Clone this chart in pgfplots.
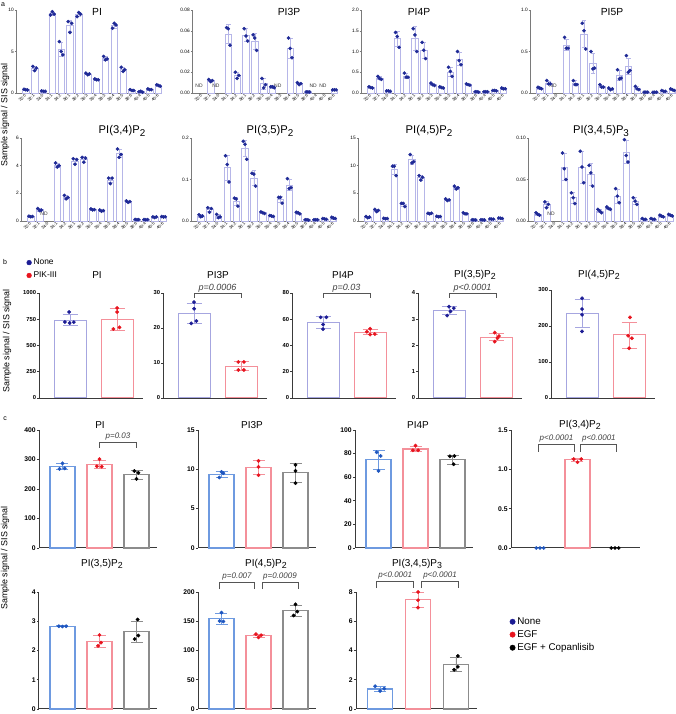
\documentclass[border=0pt]{standalone}
\usepackage{fontspec}
\setmainfont{Liberation Sans}
\usepackage{graphicx}
\usepackage{pgfplots}
\usepackage{pgfplotstable}
\pgfplotsset{compat=1.18}

\definecolor{axa}{HTML}{7A7A7A}
\definecolor{axb}{HTML}{3A3A3A}
\definecolor{abar}{HTML}{B6B6E8}
\definecolor{adot}{HTML}{1F2A96}
\definecolor{bbar}{HTML}{A6A6E0}
\definecolor{bdot}{HTML}{1C1C94}
\definecolor{rbar}{HTML}{F4909A}
\definecolor{rdot}{HTML}{E8141E}
\definecolor{cbar}{HTML}{6E9AE0}
\definecolor{cdot}{HTML}{1E56C0}
\definecolor{kbar}{HTML}{8C8C8C}
\definecolor{brk}{HTML}{555555}

\newcommand{\fs}[1]{\fontsize{#1}{#1}\selectfont}
\newcommand{\sub}[1]{\raisebox{-0.45ex}{\scalebox{0.88}{#1}}}

% ---- panel a tables: x mean sd rep1 rep2 rep3 ----
\pgfplotstableread{
x m e a b c
0 0.40 0.05 0.45 0.40 0.35
1 2.97 0.25 3.20 2.70 3.00
2 0.22 0.03 0.25 0.20 0.20
3 9.57 0.21 9.40 9.80 9.50
4 5.27 0.82 6.20 5.00 4.60
5 8.10 0.70 8.60 7.30 8.40
6 9.47 0.25 9.20 9.70 9.50
7 2.30 0.10 2.40 2.20 2.30
8 1.63 0.06 1.70 1.60 1.60
9 4.17 0.21 4.40 4.00 4.10
10 8.13 0.31 7.80 8.40 8.20
11 2.83 0.25 3.10 2.60 2.80
12 0.33 0.06 0.40 0.30 0.30
13 0.15 0.05 0.15 0.20 0.10
14 0.43 0.06 0.50 0.40 0.40
15 0.90 0.10 1.00 0.90 0.80
}\tPI
\pgfplotstableread{
x m e a b c
0 nan nan nan nan nan
1 0.012 0.001 0.013 0.011 0.012
2 nan nan nan nan nan
3 0.057 0.009 0.063 0.062 0.046
4 0.017 0.003 0.020 0.014 0.017
5 0.056 0.006 0.062 0.055 0.050
6 0.050 0.008 0.056 0.053 0.041
7 0.009 0.005 0.014 0.005 0.008
8 0.006 0.001 0.006 0.006 0.005
9 nan nan nan nan nan
10 0.043 0.010 0.053 0.043 0.034
11 0.009 0.001 0.010 0.008 0.009
12 0.001 0.0003 0.001 0.001 0.001
13 nan nan nan nan nan
14 nan nan nan nan nan
15 0.003 0.0003 0.003 0.003 0.003
}\tPIthreeP
\pgfplotstableread{
x m e a b c
0 0.13 0.015 0.15 0.13 0.12
1 0.36 0.04 0.40 0.35 0.33
2 0.05 0.005 0.05 0.05 0.04
3 1.31 0.18 1.46 1.36 1.10
4 0.41 0.06 0.48 0.38 0.38
5 1.32 0.28 1.55 1.40 1.00
6 1.03 0.20 1.22 1.03 0.83
7 0.21 0.03 0.24 0.20 0.18
8 0.13 0.015 0.15 0.13 0.12
9 0.51 0.11 0.62 0.52 0.40
10 0.82 0.16 1.00 0.78 0.68
11 0.20 0.015 0.22 0.20 0.19
12 0.03 0.005 0.03 0.03 0.02
13 0.03 0.005 0.03 0.03 0.03
14 0.06 0.005 0.06 0.06 0.05
15 0.11 0.01 0.12 0.10 0.10
}\tPIfourP
\pgfplotstableread{
x m e a b c
0 0.06 0.01 0.07 0.06 0.05
1 0.12 0.02 0.15 0.11 0.11
2 nan nan nan nan nan
3 0.58 0.07 0.67 0.54 0.54
4 0.12 0.03 0.15 0.10 0.10
5 0.71 0.16 0.84 0.75 0.53
6 0.36 0.12 0.50 0.29 0.30
7 0.08 0.015 0.10 0.07 0.07
8 0.05 0.01 0.06 0.04 0.05
9 0.21 0.06 0.28 0.17 0.18
10 0.32 0.10 0.45 0.25 0.27
11 0.06 0.02 0.08 0.05 0.04
12 0.01 0.003 0.01 0.01 0.01
13 0.01 0.003 0.01 0.01 0.01
14 0.02 0.005 0.03 0.02 0.02
15 0.04 0.01 0.05 0.04 0.03
}\tPIfiveP
\pgfplotstableread{
x m e a b c
0 0.33 0.03 0.35 0.30 0.33
1 0.81 0.08 0.90 0.75 0.78
2 nan nan nan nan nan
3 4.03 0.15 4.20 3.90 4.00
4 1.72 0.13 1.85 1.60 1.70
5 4.35 0.20 4.50 4.10 4.45
6 4.47 0.20 4.60 4.25 4.55
7 0.83 0.04 0.87 0.80 0.82
8 0.75 0.05 0.80 0.70 0.75
9 2.97 0.20 3.10 2.70 3.10
10 4.87 0.30 5.20 4.60 4.80
11 1.40 0.05 1.45 1.35 1.40
12 0.10 0.02 0.11 0.09 0.10
13 0.10 0.02 0.11 0.09 0.10
14 0.28 0.03 0.30 0.25 0.30
15 0.30 0.02 0.32 0.29 0.30
}\tPIthreefour
\pgfplotstableread{
x m e a b c
0 0.012 0.003 0.015 0.010 0.012
1 0.028 0.005 0.032 0.021 0.030
2 0.011 0.004 0.016 0.008 0.010
3 0.129 0.030 0.157 0.136 0.094
4 0.048 0.010 0.055 0.053 0.036
5 0.175 0.020 0.192 0.185 0.149
6 0.104 0.017 0.115 0.113 0.084
7 0.020 0.002 0.022 0.020 0.018
8 0.012 0.001 0.013 0.012 0.011
9 0.052 0.008 0.057 0.057 0.043
10 0.087 0.013 0.102 0.078 0.080
11 0.019 0.002 0.021 0.020 0.017
12 0.003 0.001 0.003 0.003 0.002
13 0.003 0.001 0.003 0.003 0.003
14 0.005 0.001 0.006 0.005 0.004
15 0.007 0.002 0.009 0.007 0.006
}\tPIthreefive
\pgfplotstableread{
x m e a b c
0 0.70 0.10 0.80 0.60 0.70
1 1.90 0.20 2.10 1.70 1.90
2 0.45 0.05 0.50 0.40 0.45
3 9.33 0.98 9.90 9.90 8.20
4 3.00 0.35 3.20 3.20 2.60
5 11.07 0.80 12.00 10.50 10.70
6 7.83 0.40 8.20 7.40 7.90
7 1.37 0.06 1.40 1.30 1.40
8 0.80 0.05 0.85 0.75 0.80
9 3.83 0.15 4.00 3.70 3.80
10 6.03 0.25 6.30 5.80 6.00
11 1.37 0.10 1.50 1.30 1.30
12 0.20 0.03 0.22 0.20 0.18
13 0.20 0.03 0.22 0.20 0.18
14 0.35 0.04 0.38 0.35 0.32
15 0.50 0.05 0.55 0.50 0.45
}\tPIfourfive
\pgfplotstableread{
x m e a b c
0 0.008 0.0015 0.010 0.008 0.007
1 0.020 0.0035 0.023 0.016 0.020
2 nan nan nan nan nan
3 0.065 0.016 0.082 0.063 0.050
4 0.028 0.007 0.034 0.028 0.021
5 0.065 0.019 0.084 0.065 0.046
6 0.056 0.013 0.067 0.058 0.042
7 0.012 0.002 0.014 0.012 0.010
8 0.015 0.0015 0.017 0.015 0.014
9 0.030 0.0085 0.039 0.030 0.022
10 0.083 0.014 0.098 0.079 0.071
11 0.024 0.004 0.028 0.024 0.020
12 0.002 0.0005 0.003 0.002 0.002
13 0.002 0.0005 0.003 0.002 0.002
14 0.006 0.001 0.007 0.006 0.005
15 0.007 0.001 0.008 0.007 0.006
}\tPIPthree

\pgfplotsset{
  base/.style={scale only axis, axis lines=left, axis line style={-}, ymin=0,
    clip=false, tick align=outside, enlargelimits=false, xtick=\empty,
    scaled y ticks=false,
    /pgf/number format/assume math mode=true, /pgf/number format/1000 sep={}},
  pa/.style={base, width=146pt, height=83pt, xmin=-1.1, xmax=15.4,
    axis line style={color=axa, line width=0.5pt},
    tick style={color=axa, line width=0.4pt}, major tick length=1.3pt,
    xtick={0,...,15},
    xticklabels={32:0,32:1,34:0,34:1,34:2,36:1,36:2,36:3,36:4,38:3,38:4,38:5,38:6,40:4,40:5,40:6},
    x tick label style={rotate=45, anchor=east, font=\fs{4.2}, inner sep=0.6pt},
    y tick label style={font=\fs{4.8}, inner sep=0.8pt}},
  pb/.style={base, width=104pt, height=105pt, xmin=-0.66, xmax=1.55,
    axis line style={color=axb, line width=0.9pt},
    tick style={color=axb, line width=0.7pt}, major tick length=2pt,
    y tick label style={font=\fs{5.8}\bfseries, inner sep=0.8pt}},
  pc/.style={base, width=118pt, height=118pt, xmin=-0.635, xmax=2.554,
    axis line style={color=axb, line width=1pt},
    tick style={color=axb, line width=0.8pt}, major tick length=2.2pt,
    y tick label style={font=\fs{6.8}\bfseries, inner sep=1pt}},
  abarplot/.style={ybar, bar width=6.5pt, bar shift=0pt, draw=abar, fill=white,
    line width=0.6pt, error bars/y dir=both, error bars/y explicit,
    error bars/error bar style={color=abar, line width=0.6pt},
    error bars/error mark options={rotate=90, color=abar, mark size=2.3pt, line width=0.6pt}},
  adots/.style={only marks, mark=*, mark size=1.6pt, color=adot},
  bbarplot/.style={ybar, bar width=32pt, bar shift=0pt, draw=#1, fill=white,
    line width=1pt, error bars/y dir=both, error bars/y explicit,
    error bars/error bar style={color=#1, line width=0.9pt},
    error bars/error mark options={rotate=90, color=#1, mark size=7.5pt, line width=0.9pt}},
  cbarplot/.style={ybar, bar width=25pt, bar shift=0pt, draw=#1, fill=white,
    line width=1.1pt, error bars/y dir=both, error bars/y explicit,
    error bars/error bar style={color=#1, line width=0.9pt},
    error bars/error mark options={rotate=90, color=#1, mark size=6pt, line width=0.9pt}},
  dots/.style={only marks, mark=*, mark size=1.7pt, color=#1},
}

\newcommand{\panelA}[7]{%
  \begin{axis}[pa, at={(#1pt,#2pt)}, ymax=#4, ytick={#5}, yticklabels={#6}]
    \addplot[abarplot] table[x=x, y=m, y error=e] {#3};
    \addplot[adots] table[x expr=\thisrow{x}-0.2, y=a] {#3};
    \addplot[adots] table[x=x, y=b] {#3};
    \addplot[adots] table[x expr=\thisrow{x}+0.2, y=c] {#3};
    #7
  \end{axis}}
\newcommand{\ND}[1]{\node[font=\fs{5}, text=black!80, yshift=7.5pt] at (axis cs:#1,0) {ND};}
% bracket: x1, x2, xmid, ytop, ybottom, text, text lift, text size
\newcommand{\brk}[8]{%
  \draw[brk, line width=0.8pt] (axis cs:#1,#5) -- (axis cs:#1,#4) -- (axis cs:#2,#4) -- (axis cs:#2,#5);
  \node[font=\fs{#8}\itshape, text=black!75, anchor=base, yshift=#7pt] at (axis cs:#3,#4) {#6};}

\begin{document}
\begin{tikzpicture}
\useasboundingbox (0,0) rectangle (676pt,714pt);

% ================= panel a =================
\node[font=\fs{7}] at (3pt,709pt) {a};
\node[rotate=90, font=\fs{8.9}] at (5pt,599pt) {Sample signal / SIS signal};

\panelA{16}{621}{\tPI}{10}{0,5,10}{0,5,10}{}
\panelA{192}{621}{\tPIthreeP}{0.08}{0,0.02,0.04,0.06,0.08}{0.00,0.02,0.04,0.06,0.08}%
  {\ND{-0.3}\ND{1.6}\ND{8.6}\ND{12.6}\ND{13.7}}
\panelA{361}{621}{\tPIfourP}{2}{0,0.5,1,1.5,2}{0.0,0.5,1.0,1.5,2.0}{}
\panelA{530}{621}{\tPIfiveP}{1}{0,0.5,1}{0.0,0.5,1.0}{\ND{1.5}}
\panelA{21}{493}{\tPIthreefour}{6}{0,2,4,6}{0,2,4,6}{\ND{1.5}}
\panelA{191}{493}{\tPIthreefive}{0.2}{0,0.1,0.2}{0.0,0.1,0.2}{}
\panelA{358}{493}{\tPIfourfive}{15}{0,5,10,15}{0,5,10,15}{}
\panelA{528}{493}{\tPIPthree}{0.1}{0,0.05,0.1}{0.00,0.05,0.10}{\ND{1.5}}

\node[font=\fs{10.3}] at (97pt,702pt) {PI};
\node[font=\fs{10.3}] at (289pt,702pt) {PI3P};
\node[font=\fs{10.3}] at (419pt,702pt) {PI4P};
\node[font=\fs{10.3}] at (612pt,702pt) {PI5P};
\node[font=\fs{11.2}] at (122pt,583pt) {PI(3,4)P\sub{2}};
\node[font=\fs{11.2}] at (270pt,583pt) {PI(3,5)P\sub{2}};
\node[font=\fs{11.2}] at (429pt,583pt) {PI(4,5)P\sub{2}};
\node[font=\fs{11.2}] at (601pt,583pt) {PI(3,4,5)P\sub{3}};

% ================= panel b =================
\node[font=\fs{7}] at (5pt,452pt) {b};
\node[rotate=90, font=\fs{8.9}] at (7pt,373pt) {Sample signal / SIS signal};

\begin{axis}[pb, at={(39pt,316pt)}, ymax=1000, ytick={0,250,500,750,1000},
  legend style={at={(-0.12,1.345)}, anchor=north west, draw=none, fill=none,
    font=\fs{8.4}, row sep=1.6pt, inner sep=0pt}, legend cell align=left]
  \addlegendimage{only marks, mark=*, mark size=2.4pt, color=bdot}
  \addlegendentry{None}
  \addlegendimage{only marks, mark=*, mark size=2.4pt, color=rdot}
  \addlegendentry{PIK-III}
  \addplot[bbarplot=bbar] coordinates {(0,740) +- (0,52)};
  \addplot[bbarplot=rbar] coordinates {(1,751) +- (0,105)};
  \addplot[dots=bdot] coordinates {(-0.02,819) (-0.11,724) (-0.01,714) (0.08,722)};
  \addplot[dots=rdot] coordinates {(1.0,857) (1.0,819) (1.05,673) (0.92,657)};
\end{axis}

\begin{axis}[pb, at={(163pt,316pt)}, ymax=30, ytick={0,10,20,30}]
  \addplot[bbarplot=bbar] coordinates {(0,24.1) +- (0,2.9)};
  \addplot[bbarplot=rbar] coordinates {(1,9.1) +- (0,1.25)};
  \addplot[dots=bdot] coordinates {(0,27.4) (0,25.5) (0.05,22.0) (-0.06,21.3)};
  \addplot[dots=rdot] coordinates {(0.94,10.3) (1.06,10.3) (0.94,8.0) (1.06,8.0)};
  \brk{0}{1}{0.5}{30}{28.6}{p=0.0006}{2.5}{9}
\end{axis}

\begin{axis}[pb, at={(292pt,316pt)}, ymax=80, ytick={0,20,40,60,80}]
  \addplot[bbarplot=bbar] coordinates {(0,57.8) +- (0,4.5)};
  \addplot[bbarplot=rbar] coordinates {(1,50.1) +- (0,2.0)};
  \addplot[dots=bdot] coordinates {(-0.05,61.5) (0.07,61.5) (0,56) (0,52.5)};
  \addplot[dots=rdot] coordinates {(1.0,52.8) (0.93,50.5) (1.0,48.3) (1.1,48.7)};
  \brk{0}{1}{0.5}{80}{76.2}{p=0.03}{2.5}{9}
\end{axis}

\begin{axis}[pb, at={(418pt,316pt)}, ymax=4, ytick={0,1,2,3,4}]
  \addplot[bbarplot=bbar] coordinates {(0,3.32) +- (0,0.15)};
  \addplot[bbarplot=rbar] coordinates {(1,2.32) +- (0,0.14)};
  \addplot[dots=bdot] coordinates {(0,3.48) (0.1,3.42) (0.03,3.30) (-0.04,3.14)};
  \addplot[dots=rdot] coordinates {(0.97,2.49) (1.06,2.36) (1.03,2.28) (0.97,2.15)};
  \brk{0}{1}{0.5}{4}{3.81}{p<0.0001}{2.5}{9}
\end{axis}

\begin{axis}[pb, at={(551pt,316pt)}, height=108pt, ymax=300, ytick={0,100,200,300}]
  \addplot[bbarplot=bbar] coordinates {(0,235) +- (0,40)};
  \addplot[bbarplot=rbar] coordinates {(1,175) +- (0,36)};
  \addplot[dots=bdot] coordinates {(0,277) (0,247) (0,231) (0,185)};
  \addplot[dots=rdot] coordinates {(1.02,224) (0.98,173) (1.06,166) (1.0,138)};
\end{axis}

\node[font=\fs{10}] at (97pt,439pt) {PI};
\node[font=\fs{10}] at (218pt,439pt) {PI3P};
\node[font=\fs{10}] at (343pt,439pt) {PI4P};
\node[font=\fs{10}] at (475pt,439pt) {PI(3,5)P\sub{2}};
\node[font=\fs{10}] at (599pt,439pt) {PI(4,5)P\sub{2}};

% ================= panel c =================
\node[font=\fs{7}] at (5pt,295pt) {c};
\node[rotate=90, font=\fs{8.9}] at (5pt,156pt) {Sample signal / SIS signal};

\begin{axis}[pc, at={(39pt,166pt)}, ymax=400, ytick={0,100,200,300,400}]
  \addplot[cbarplot=cbar] coordinates {(0,275) +- (0,10)};
  \addplot[cbarplot=rbar] coordinates {(1,284) +- (0,14)};
  \addplot[cbarplot=kbar] coordinates {(2,248) +- (0,14)};
  \addplot[dots=cdot] coordinates {(0,287) (-0.08,268) (0.06,270)};
  \addplot[dots=rdot] coordinates {(1.0,301) (0.93,277) (1.06,276)};
  \addplot[dots=black] coordinates {(1.94,261) (2.05,255) (2.0,234)};
  \brk{1}{2}{1.5}{359}{339}{p=0.03}{4}{8}
\end{axis}

\begin{axis}[pc, at={(198pt,166pt)}, ymax=15, ytick={0,5,10,15}]
  \addplot[cbarplot=cbar] coordinates {(0,9.38) +- (0,0.36)};
  \addplot[cbarplot=rbar] coordinates {(1,10.2) +- (0,0.9)};
  \addplot[cbarplot=kbar] coordinates {(2,9.55) +- (0,1.2)};
  \addplot[dots=cdot] coordinates {(0,9.67) (0.05,9.5) (-0.06,8.96)};
  \addplot[dots=rdot] coordinates {(1,11.07) (1,10.3) (1,9.25)};
  \addplot[dots=black] coordinates {(2,10.56) (2,9.8) (2,8.24)};
\end{axis}

\begin{axis}[pc, at={(355pt,166pt)}, ymax=100, ytick={0,20,40,60,80,100}]
  \addplot[cbarplot=cbar] coordinates {(0,74.8) +- (0,8)};
  \addplot[cbarplot=rbar] coordinates {(1,83.9) +- (0,2.3)};
  \addplot[cbarplot=kbar] coordinates {(2,74.9) +- (0,3.9)};
  \addplot[dots=cdot] coordinates {(-0.05,81.1) (0.06,78) (0,65.4)};
  \addplot[dots=rdot] coordinates {(1.0,86.8) (0.93,82.8) (1.07,82.8)};
  \addplot[dots=black] coordinates {(1.93,77.7) (2.05,78) (2.03,71)};
\end{axis}

\begin{axis}[pc, at={(511pt,166pt)}, width=129pt, xmin=-0.773, xmax=2.667,
  ymax=1.5, ytick={0,0.5,1,1.5}, yticklabels={0.0,0.5,1.0,1.5}]
  \addplot[cbarplot=rbar] coordinates {(1,1.12) +- (0,0.022)};
  \addplot[dots=cdot] coordinates {(-0.1,0) (0,0) (0.1,0)};
  \addplot[dots=rdot] coordinates {(0.9,1.13) (1.0,1.09) (1.1,1.13)};
  \addplot[dots=black] coordinates {(1.9,0) (2,0) (2.1,0)};
  \brk{-0.05}{0.93}{0.44}{1.319}{1.225}{p<0.0001}{4}{8}
  \brk{1.09}{2.05}{1.57}{1.319}{1.225}{p<0.0001}{4}{8}
\end{axis}

\begin{axis}[pc, at={(39pt,5pt)}, height=117pt, ymax=4, ytick={0,1,2,3,4}]
  \addplot[cbarplot=cbar] coordinates {(0,2.83) +- (0,0.01)};
  \addplot[cbarplot=rbar] coordinates {(1,2.32) +- (0,0.2)};
  \addplot[cbarplot=kbar] coordinates {(2,2.65) +- (0,0.36)};
  \addplot[dots=cdot] coordinates {(-0.1,2.83) (0,2.82) (0.1,2.83)};
  \addplot[dots=rdot] coordinates {(1.0,2.53) (1.04,2.27) (0.96,2.16)};
  \addplot[dots=black] coordinates {(2.03,3.06) (2.05,2.51) (1.95,2.39)};
\end{axis}

\begin{axis}[pc, at={(198pt,5pt)}, height=117pt, ymax=200, ytick={0,50,100,150,200}]
  \addplot[cbarplot=cbar] coordinates {(0,154) +- (0,9.5)};
  \addplot[cbarplot=rbar] coordinates {(1,125) +- (0,2.5)};
  \addplot[cbarplot=kbar] coordinates {(2,168) +- (0,9.5)};
  \addplot[dots=cdot] coordinates {(0,164.8) (-0.05,150.3) (0.05,149.7)};
  \addplot[dots=rdot] coordinates {(0.93,128) (1.0,122.5) (1.07,126)};
  \addplot[dots=black] coordinates {(2.0,178.8) (2.05,166.5) (1.95,159.8)};
  \brk{-0.07}{0.9}{0.42}{216}{205}{p=0.007}{4}{8}
  \brk{1.1}{2.07}{1.58}{216}{205}{p=0.0009}{4}{8}
\end{axis}

\begin{axis}[pc, at={(356pt,5pt)}, width=121pt, height=117pt, ymax=8, ytick={0,2,4,6,8},
  legend style={at={(1.27,0.8)}, anchor=north west, draw=none, fill=none,
    font=\fs{9.8}, row sep=0.6pt, inner sep=0pt}, legend cell align=left]
  \addlegendimage{only marks, mark=*, mark size=2.7pt, color=bdot}
  \addlegendentry{None}
  \addlegendimage{only marks, mark=*, mark size=2.7pt, color=rdot}
  \addlegendentry{EGF}
  \addlegendimage{only marks, mark=*, mark size=2.7pt, color=black}
  \addlegendentry{EGF + Copanlisib}
  \addplot[cbarplot=cbar] coordinates {(0,1.37) +- (0,0.2)};
  \addplot[cbarplot=rbar] coordinates {(1,7.46) +- (0,0.53)};
  \addplot[cbarplot=kbar] coordinates {(2,3.04) +- (0,0.5)};
  \addplot[dots=cdot] coordinates {(-0.13,1.56) (0.11,1.39) (0,1.23)};
  \addplot[dots=rdot] coordinates {(1,8.0) (1,7.44) (1,6.93)};
  \addplot[dots=black] coordinates {(2.05,3.62) (2.05,2.88) (1.95,2.68)};
  \brk{-0.09}{0.88}{0.4}{8.71}{8.27}{p<0.0001}{4}{8}
  \brk{1.1}{2.07}{1.58}{8.71}{8.27}{p<0.0001}{4}{8}
\end{axis}

\node[font=\fs{10}] at (100pt,289pt) {PI};
\node[font=\fs{10}] at (252pt,289pt) {PI3P};
\node[font=\fs{10}] at (418pt,289pt) {PI4P};
\node[font=\fs{10}] at (580pt,289pt) {PI(3,4)P\sub{2}};
\node[font=\fs{10}] at (102pt,150pt) {PI(3,5)P\sub{2}};
\node[font=\fs{10}] at (266pt,150pt) {PI(4,5)P\sub{2}};
\node[font=\fs{10}] at (417pt,150pt) {PI(3,4,5)P\sub{3}};
\end{tikzpicture}
\end{document}
